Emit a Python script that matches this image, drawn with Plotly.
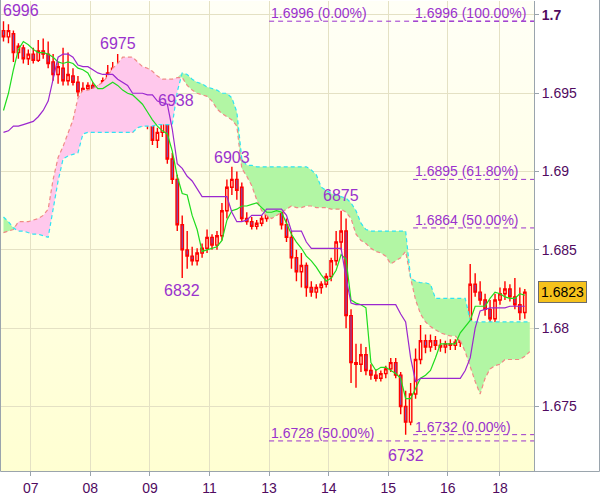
import base64
import plotly.graph_objects as go

# ---------------- data (2-hour bars) ----------------
open_ = [1.6990,1.6986,1.6988,1.6976,1.6979,1.6972,1.6975,1.6971,1.6977,1.6975,
         1.6970,1.6962,1.6966,1.6958,1.6961,1.6957,1.6951,1.6953,1.6955,1.6952,
         1.6950,1.6958,1.6963,1.6966,1.6948,1.6950,1.6933,1.6940,1.6931,1.6933,
         1.6930,1.6920,1.6925,1.6934,1.6908,1.6895,1.6866,1.6850,1.6846,1.6843,
         1.6848,1.6851,1.6858,1.6853,1.6859,1.6875,1.6890,1.6895,1.6890,1.6870,
         1.6868,1.6865,1.6867,1.6870,1.6881,1.6877,1.6880,1.6866,1.6858,1.6845,
         1.6836,1.6840,1.6826,1.6823,1.6826,1.6828,1.6833,1.6843,1.6855,1.6862,
         1.6808,1.6778,1.6777,1.6783,1.6773,1.6770,1.6768,1.6771,1.6774,1.6778,
         1.6770,1.6750,1.6740,1.6758,1.6780,1.6792,1.6788,1.6792,1.6789,1.6788,
         1.6790,1.6789,1.6791,1.6801,1.6805,1.6828,1.6823,1.6818,1.6812,1.6806,
         1.6818,1.6822,1.6825,1.6820,1.6815,1.6810]
high = [1.6996,1.6994,1.6990,1.6982,1.6981,1.6978,1.6979,1.6984,1.6985,1.6983,
        1.6975,1.6970,1.6979,1.6976,1.6966,1.6961,1.6957,1.6957,1.6957,1.6955,
        1.6960,1.6968,1.6970,1.6975,1.6966,1.6955,1.6945,1.6943,1.6935,1.6936,
        1.6932,1.6928,1.6937,1.6938,1.6912,1.6898,1.6872,1.6862,1.6852,1.6851,
        1.6854,1.6863,1.6860,1.6862,1.6880,1.6895,1.6903,1.6900,1.6893,1.6874,
        1.6871,1.6869,1.6872,1.6885,1.6884,1.6885,1.6882,1.6870,1.6862,1.6850,
        1.6848,1.6842,1.6830,1.6828,1.6830,1.6835,1.6845,1.6862,1.6875,1.6870,
        1.6812,1.6790,1.6790,1.6788,1.6777,1.6774,1.6773,1.6776,1.6781,1.6781,
        1.6772,1.6760,1.6765,1.6787,1.6802,1.6796,1.6796,1.6795,1.6793,1.6792,
        1.6793,1.6793,1.6805,1.6808,1.6841,1.6835,1.6830,1.6822,1.6818,1.6822,
        1.6826,1.6830,1.6828,1.6832,1.6826,1.6825]
low = [1.6983,1.6982,1.6970,1.6972,1.6969,1.6968,1.6969,1.6970,1.6972,1.6966,
       1.6958,1.6956,1.6955,1.6955,1.6955,1.6948,1.6947,1.6950,1.6949,1.6943,
       1.6948,1.6955,1.6957,1.6942,1.6937,1.6929,1.6925,1.6928,1.6929,1.6927,
       1.6917,1.6915,1.6922,1.6905,1.6892,1.6862,1.6832,1.6838,1.6840,1.6840,
       1.6845,1.6848,1.6850,1.6850,1.6856,1.6870,1.6885,1.6882,1.6868,1.6866,
       1.6863,1.6863,1.6865,1.6868,1.6873,1.6872,1.6863,1.6855,1.6838,1.6830,
       1.6826,1.6820,1.6820,1.6819,1.6822,1.6826,1.6830,1.6840,1.6850,1.6800,
       1.6765,1.6762,1.6772,1.6770,1.6767,1.6766,1.6766,1.6768,1.6772,1.6768,
       1.6745,1.6732,1.6738,1.6755,1.6777,1.6784,1.6785,1.6786,1.6785,1.6784,
       1.6786,1.6786,1.6788,1.6795,1.6800,1.6820,1.6815,1.6808,1.6800,1.6803,
       1.6815,1.6818,1.6817,1.6812,1.6805,1.6806]
close = [1.6986,1.6990,1.6976,1.6980,1.6972,1.6975,1.6971,1.6977,1.6975,1.6969,
         1.6962,1.6967,1.6958,1.6962,1.6957,1.6951,1.6953,1.6955,1.6952,1.6950,
         1.6958,1.6963,1.6966,1.6948,1.6950,1.6933,1.6940,1.6931,1.6933,1.6930,
         1.6920,1.6925,1.6934,1.6908,1.6895,1.6866,1.6850,1.6846,1.6843,1.6848,
         1.6851,1.6858,1.6853,1.6859,1.6875,1.6890,1.6895,1.6888,1.6870,1.6868,
         1.6865,1.6867,1.6870,1.6881,1.6877,1.6880,1.6866,1.6858,1.6845,1.6836,
         1.6840,1.6826,1.6823,1.6826,1.6828,1.6833,1.6843,1.6855,1.6862,1.6808,
         1.6778,1.6777,1.6783,1.6773,1.6770,1.6768,1.6771,1.6774,1.6778,1.6770,
         1.6750,1.6740,1.6758,1.6780,1.6792,1.6788,1.6792,1.6789,1.6788,1.6790,
         1.6789,1.6791,1.6801,1.6805,1.6828,1.6823,1.6818,1.6812,1.6806,1.6818,
         1.6822,1.6825,1.6820,1.6815,1.6810,1.6823]

tenkan = [1.6939,1.6950,1.6965,1.6978,1.6983,1.6981,1.6978,1.6976,1.6976,1.6975,
          1.6973,1.6970,1.6969,1.6970,1.6969,1.6966,1.6965,1.6963,1.6957,1.6953,
          1.6953,1.6955,1.6957,1.6955,1.6952,1.6950,1.6949,1.6946,1.6943,1.6938,
          1.6933,1.6929,1.6926,1.6924,1.6913,1.6897,1.6886,1.6885,1.6872,1.6863,
          1.6849,1.6850,1.6851,1.6852,1.6856,1.6869,1.6875,1.6876,1.6878,1.6878,
          1.6879,1.6880,1.6877,1.6874,1.6874,1.6875,1.6874,1.6867,1.6860,1.6855,
          1.6851,1.6846,1.6843,1.6839,1.6834,1.6830,1.6832,1.6837,1.6847,1.6844,
          1.6818,1.6816,1.6815,1.6813,1.6778,1.6773,1.6775,1.6775,1.6773,1.6771,
          1.6768,1.6755,1.6755,1.6761,1.6768,1.6770,1.6773,1.6781,1.6790,1.6790,
          1.6790,1.6790,1.6797,1.6801,1.6805,1.6814,1.6814,1.6814,1.6819,1.6823,
          1.6822,1.6820,1.6819,1.6819,1.6822,1.6821]
kijun = [1.6925,1.6926,1.6929,1.6929,1.6930,1.6931,1.6932,1.6935,1.6939,1.6945,
         1.6959,1.6973,1.6975,1.6975,1.6973,1.6968,1.6967,1.6967,1.6965,1.6963,
         1.6962,1.6962,1.6962,1.6959,1.6957,1.6955,1.6950,1.6950,1.6950,1.6949,
         1.6949,1.6945,1.6944,1.6943,1.6927,1.6905,1.6902,1.6897,1.6894,1.6889,
         1.6884,1.6884,1.6884,1.6884,1.6884,1.6884,1.6874,1.6868,1.6868,1.6869,
         1.6872,1.6872,1.6872,1.6876,1.6876,1.6876,1.6876,1.6872,1.6862,1.6862,
         1.6862,1.6855,1.6851,1.6851,1.6851,1.6851,1.6851,1.6851,1.6851,1.6832,
         1.6816,1.6815,1.6815,1.6815,1.6815,1.6815,1.6815,1.6815,1.6815,1.6815,
         1.6809,1.6804,1.6781,1.6766,1.6768,1.6768,1.6768,1.6768,1.6768,1.6768,
         1.6768,1.6768,1.6768,1.6773,1.6781,1.6800,1.6811,1.6812,1.6813,1.6813,
         1.6813,1.6813,1.6814,1.6814,1.6814,1.6814]
span_a = [1.6861,1.6862,1.6863,1.6868,1.6868,1.6868,1.6869,1.6870,1.6872,1.6876,
          1.6895,1.6909,1.6916,1.6924,1.6933,1.6947,1.6952,1.6952,1.6953,1.6955,
          1.6957,1.6961,1.6966,1.6969,1.6973,1.6973,1.6973,1.6970,1.6967,1.6966,
          1.6964,1.6961,1.6959,1.6959,1.6959,1.6960,1.6960,1.6955,1.6952,1.6950,
          1.6949,1.6948,1.6945,1.6940,1.6937,1.6935,1.6933,1.6929,1.6902,1.6897,
          1.6891,1.6882,1.6875,1.6872,1.6870,1.6872,1.6874,1.6876,1.6878,1.6877,
          1.6877,1.6878,1.6878,1.6877,1.6877,1.6877,1.6876,1.6876,1.6876,1.6874,
          1.6870,1.6860,1.6856,1.6854,1.6851,1.6849,1.6848,1.6846,1.6841,1.6843,
          1.6845,1.6849,1.6832,1.6818,1.6809,1.6804,1.6801,1.6799,1.6797,1.6796,
          1.6795,1.6795,1.6792,1.6785,1.6775,1.6766,1.6758,1.6768,1.6774,1.6776,
          1.6777,1.6780,1.6780,1.6780,1.6780,1.6782,1.6785]
span_b = [1.6871,1.6868,1.6864,1.6862,1.6862,1.6861,1.6860,1.6860,1.6859,1.6858,
          1.6876,1.6894,1.6908,1.6910,1.6911,1.6912,1.6924,1.6925,1.6925,1.6925,
          1.6925,1.6925,1.6925,1.6925,1.6925,1.6925,1.6925,1.6928,1.6929,1.6929,
          1.6929,1.6930,1.6930,1.6930,1.6930,1.6951,1.6963,1.6962,1.6959,1.6957,
          1.6956,1.6954,1.6953,1.6952,1.6950,1.6950,1.6947,1.6938,1.6908,1.6904,
          1.6904,1.6903,1.6903,1.6903,1.6903,1.6903,1.6903,1.6903,1.6903,1.6903,
          1.6903,1.6903,1.6901,1.6898,1.6890,1.6888,1.6886,1.6885,1.6884,1.6883,
          1.6880,1.6875,1.6867,1.6863,1.6862,1.6862,1.6862,1.6862,1.6862,1.6862,
          1.6862,1.6862,1.6832,1.6830,1.6829,1.6829,1.6828,1.6819,1.6819,1.6819,
          1.6819,1.6819,1.6819,1.6819,1.6805,1.6804,1.6804,1.6804,1.6804,1.6804,
          1.6804,1.6804,1.6804,1.6804,1.6804,1.6804,1.6804]

day_ticks = [5.5, 17.5, 29.5, 41.5, 53.5, 65.5, 77.5, 89.5, 100.0]
day_labels = ["07", "08", "09", "11", "13", "14", "15", "16", "18"]
price_ticks = [1.675, 1.68, 1.685, 1.69, 1.695, 1.7]

# swing labels: bar index and which extreme
swing_bars = [0, 23, 33, 46, 68, 36, 81]
swing_kind = ["high", "high", "high", "high", "high", "low", "low"]

# fibonacci levels
fib_price = [1.6996, 1.6728, 1.6996, 1.6895, 1.6864, 1.6732]
fib_pct = ["0.00%", "50.00%", "100.00%", "61.80%", "50.00%", "0.00%"]
fib_start = [53.5, 53.5, 82.5, 82.5, 82.5, 82.5]

# ---------------- styling ----------------
W, H = 600, 497
ML, MR, MT, MB = 1, 66, 1, 23
FONT = "Liberation Sans, Arial, sans-serif"
PURPLE = "#9a32cd"
TXT = "#500a60"
AXC = "#9aa4ad"
GRID = "#e4e1c4"

bars = list(range(len(close)))
cloud_x = list(range(len(span_a)))
top_ab = [max(a, b) for a, b in zip(span_a, span_b)]

fig = go.Figure()

# pink cloud (span A above span B)
fig.add_trace(go.Scatter(x=cloud_x, y=span_b, mode="lines", line=dict(width=0),
                         hoverinfo="skip"))
fig.add_trace(go.Scatter(x=cloud_x, y=top_ab, mode="lines", line=dict(width=0),
                         fill="tonexty", fillcolor="#ffc8ec", hoverinfo="skip"))
# green cloud (span B above span A)
fig.add_trace(go.Scatter(x=cloud_x, y=span_a, mode="lines", line=dict(width=0),
                         hoverinfo="skip"))
fig.add_trace(go.Scatter(x=cloud_x, y=top_ab, mode="lines", line=dict(width=0),
                         fill="tonexty", fillcolor="#b2f6a4", hoverinfo="skip"))
# cloud edges
fig.add_trace(go.Scatter(x=cloud_x, y=span_a, mode="lines",
                         line=dict(color="#f08a86", width=1.2, dash="4px,3px"),
                         hoverinfo="skip"))
fig.add_trace(go.Scatter(x=cloud_x, y=span_b, mode="lines",
                         line=dict(color="#2fe4f2", width=1.2, dash="4px,3px"),
                         hoverinfo="skip"))

# candles
fig.add_trace(go.Candlestick(
    x=bars, open=open_, high=high, low=low, close=close,
    increasing=dict(line=dict(color="#ff0000", width=1.4), fillcolor="rgba(0,0,0,0)"),
    decreasing=dict(line=dict(color="#ff0000", width=1.4), fillcolor="#7258c8"),
    whiskerwidth=0, hoverinfo="skip"))

# tenkan / kijun
fig.add_trace(go.Scatter(x=bars, y=tenkan, mode="lines",
                         line=dict(color="#1fdc1f", width=1.2), hoverinfo="skip"))
fig.add_trace(go.Scatter(x=bars, y=kijun, mode="lines",
                         line=dict(color="#9b27cf", width=1.2), hoverinfo="skip"))

ann = []
shapes = []

# swing labels
swing_shift = [(-2, 0), (0, 0), (9, 1), (0, -1), (0, 5), (0, -2), (0, -10)]
for (i, kind), (dx, dy) in zip(zip(swing_bars, swing_kind), swing_shift):
    v = high[i] if kind == "high" else low[i]
    ann.append(dict(x=i, y=v, xref="x", yref="y", text=f"{v:.4f}"[-4:],
                    showarrow=False, xanchor="left" if i == 0 else "center",
                    yanchor="bottom" if kind == "high" else "top",
                    xshift=dx, yshift=dy,
                    font=dict(family=FONT, size=16, color=PURPLE)))

# fibonacci lines and labels
for p, pct, xs in zip(fib_price, fib_pct, fib_start):
    shapes.append(dict(type="line", xref="x", yref="y", x0=xs, x1=106.85, y0=p, y1=p,
                       line=dict(color=PURPLE, width=1, dash="5px,4px"), layer="above"))
    ann.append(dict(x=xs, y=p, xref="x", yref="y", text=f"{p:.4f} ({pct})",
                    showarrow=False, xanchor="left", yanchor="bottom", xshift=0, yshift=-2,
                    font=dict(family=FONT, size=14, color=PURPLE)))

# current price box
ann.append(dict(x=1, xref="paper", y=close[-1], yref="y", text=f"{close[-1]:.4f}",
                showarrow=False, xanchor="left", yanchor="middle", xshift=4,
                bgcolor="#f6c21c", bordercolor="#6b6b6b", borderwidth=1, borderpad=2,
                font=dict(family=FONT, size=14, color="#000000")))

# outer frame
pw, ph = W - ML - MR, H - MT - MB
shapes.append(dict(type="rect", xref="paper", yref="paper",
                   x0=(0.5 - ML) / pw, x1=(W - 0.5 - ML) / pw,
                   y0=(H - MT - (H - 0.5)) / ph, y1=(H - MT - 0.5) / ph,
                   line=dict(color=AXC, width=1), fillcolor="rgba(0,0,0,0)", layer="above"))

svg = ('<svg xmlns="http://www.w3.org/2000/svg" width="10" height="100" '
       'viewBox="0 0 10 100" preserveAspectRatio="none"><defs>'
       '<linearGradient id="g" x1="0" y1="0" x2="0" y2="1">'
       '<stop offset="0" stop-color="#fffff6"/><stop offset="1" stop-color="#ffffd2"/>'
       '</linearGradient></defs><rect width="10" height="100" fill="url(#g)"/></svg>')
bg_src = "data:image/svg+xml;base64," + base64.b64encode(svg.encode()).decode()

ytext = [f"{v:g}" for v in price_ticks]
ytext[-1] = "<b>" + ytext[-1] + "</b>"

fig.update_layout(
    width=W, height=H, margin=dict(l=ML, r=MR, t=MT, b=MB),
    paper_bgcolor="white", plot_bgcolor="rgba(0,0,0,0)",
    showlegend=False, hovermode=False,
    images=[dict(source=bg_src, xref="paper", yref="paper", x=0, y=1, sizex=1, sizey=1,
                 sizing="stretch", xanchor="left", yanchor="top", layer="below")],
    xaxis=dict(range=[-0.5, 106.85], tickmode="array", tickvals=day_ticks,
               ticktext=day_labels, showgrid=True, gridcolor=GRID, gridwidth=1,
               zeroline=False, showline=True, linecolor=AXC, linewidth=1,
               ticks="outside", ticklen=4, tickcolor=AXC,
               tickfont=dict(family=FONT, size=14, color=TXT),
               rangeslider=dict(visible=False), fixedrange=True),
    yaxis=dict(range=[1.67088, 1.70089], side="right", tickmode="array",
               tickvals=price_ticks, ticktext=ytext, showgrid=True, gridcolor=GRID,
               gridwidth=1, zeroline=False, showline=True, linecolor=AXC, linewidth=1,
               ticks="outside", ticklen=4, tickcolor=AXC,
               tickfont=dict(family=FONT, size=14, color=TXT), fixedrange=True),
    annotations=ann, shapes=shapes,
)

fig.write_html("out.html", config={"displayModeBar": False},
               post_script="document.body.style.margin='0';document.body.style.overflow='hidden';")
